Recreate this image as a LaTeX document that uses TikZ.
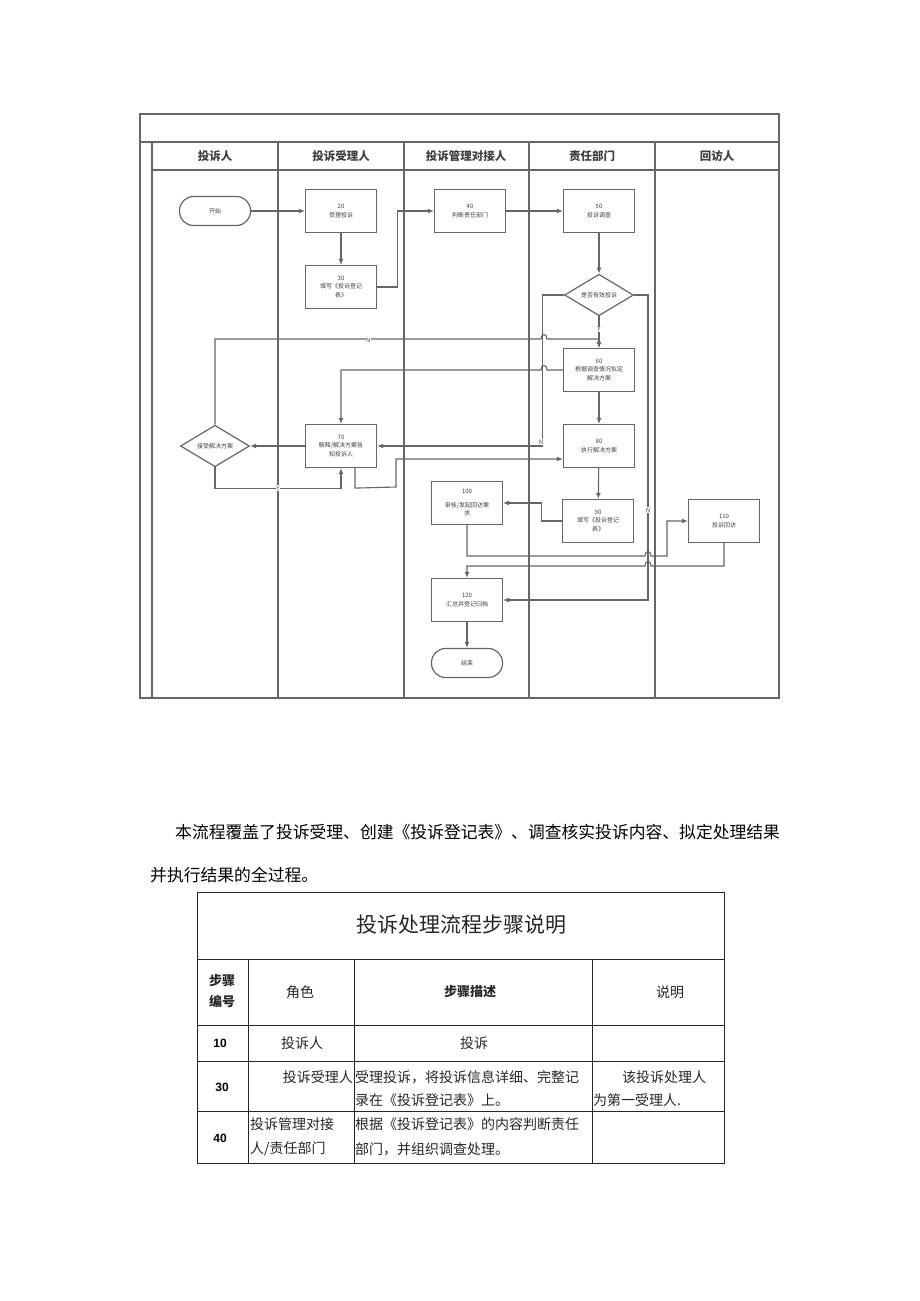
\documentclass[tikz,border=0pt]{standalone}
\usepackage{fontspec}
\setmainfont{Noto Sans CJK SC}
\newfontfamily\numfont{Liberation Sans}
\usetikzlibrary{shapes.geometric,arrows.meta,calc}
\begin{document}
\begin{tikzpicture}[x=1pt,y=-1pt,
  frame/.style={draw=black!60,line width=1.4pt},
  box/.style={draw=black!60,line width=1.2pt,minimum width=71pt,minimum height=43pt,align=center,
    font=\fontsize{6}{8.5}\selectfont,text=black!75,inner sep=1pt},
  term/.style={box,minimum height=29pt,rounded corners=14pt},
  dia/.style={draw=black!60,line width=1.2pt,shape=diamond,minimum width=69pt,minimum height=41pt,
    inner sep=0pt,font=\fontsize{6}{8}\selectfont,text=black!75},
  arr/.style={draw=black!60,line width=1.1pt,-{Latex[length=6pt,width=5pt]}},
  lbl/.style={font=\fontsize{6}{6}\selectfont,text=black!70,fill=white,inner sep=0.5pt},
  lane/.style={font=\fontsize{11.5}{12}\selectfont\bfseries,text=black!75},
  tline/.style={draw=black!85,line width=0.8pt},
  ttext/.style={font=\fontsize{14}{16}\selectfont,text=black!85,inner sep=0pt},
  tnum/.style={font=\numfont\bfseries\fontsize{12}{14}\selectfont,text=black,inner sep=0pt},
  ptext/.style={font=\fontsize{16.8}{18}\selectfont,text=black,inner sep=0pt}
]
\useasboundingbox (0,0) rectangle (920,1301);

% ---------- pool frame ----------
\draw[frame] (140,114) rectangle (779,698);
\draw[frame] (140,142) -- (779,142);
\draw[frame] (152,170) -- (779,170);
\foreach \x in {152,278,404,529,655} \draw[frame] (\x,142) -- (\x,698);

\node[lane] (h1) at (215,156) {投诉人};
\node[lane] (h2) at (341,156) {投诉受理人};
\node[lane] (h3) at (466,156) {投诉管理对接人};
\node[lane] (h4) at (592,156) {责任部门};
\node[lane] (h5) at (717,156) {回访人};

% ---------- nodes ----------
\node[term] (start) at (215,211) {开始};
\node[box] (n20) at (341,211) {20\\受理投诉};
\node[box] (n30) at (341,287) {30\\填写《投诉登记\\表》};
\node[box] (n40) at (470,211) {40\\判断责任部门};
\node[box] (n50) at (599,211) {50\\投诉调查};
\node[dia] (d1) at (599,295) {是否有效投诉};
\node[box] (n60) at (599,370) {60\\根据调查情况拟定\\解决方案};
\node[box] (n70) at (341,446) {70\\解释/解决方案告\\知投诉人};
\node[dia] (d2) at (215,446) {接受解决方案};
\node[box] (n80) at (599,446) {80\\执行解决方案};
\node[box] (n90) at (598,521) {90\\填写《投诉登记\\表》};
\node[box] (n100) at (467,503) {100\\[5pt]审核/发起回访需\\求};
\node[box] (n110) at (724,521) {110\\投诉回访};
\node[box] (n120) at (467,600) {120\\汇总并登记归档};
\node[term] (end) at (467,663) {结束};

% ---------- connectors ----------
\draw[arr] (start) -- (n20);
\draw[arr] (n20) -- (n30);
\draw[arr] (n30.east) -- ++(20,0) |- (n40.west);
\draw[arr] (n40) -- (n50);
\draw[arr] (n50) -- (d1);
\draw[arr] (d1) -- node[lbl,pos=0.42] {Y} (n60);
\draw[arr] (d1.west) -- ++(-21,0) |- (n70.east);
\node[lbl] (lN1) at (541,442) {N};
\draw[arr] (d2.north) -- (215,339) -- node[lbl,pos=0.47,yshift=-1pt] {N} (541,339)
  .. controls (541,333) and (547,333) .. (547,339) -- (599,339) -- (n60.north);
\draw[arr] (n60.west) -- (547,370) .. controls (547,364) and (541,364) .. (541,370) -| (n70.north);
\draw[arr] (n70.west) -- (d2.east);
\draw[arr] (d2.south) |- node[lbl,pos=0.75] {Y} ($(n70.south)+(0,20)$) -- (n70.south);
\draw[arr] ($(n70.south)+(14,0)$) -- ++(0,20) -- (396,487) -- (396,459) -- ($(n80.west)+(0,13)$);
\draw[arr] (n60) -- (n80);
\draw[arr] (n80) -- (n90);
\draw[arr] (n90.west) -- ++(-20,0) |- (n100.east);
\draw[arr] (n100.south) -- (467,556) -- (645,556) .. controls (645,550) and (651,550) .. (651,556)
  -- (667,556) -- (667,521) -- (n110.west);
\draw[arr] (n110.south) -- (724,566) -- (651,566) .. controls (651,560) and (645,560) .. (645,566)
  -- (467,566) -- (n120.north);
\draw[arr] (d1.east) -- (648,295) -- node[lbl,pos=0.705] {N} (648,600) -- (n120.east);
\draw[arr] (n120) -- (end);

% ---------- paragraph ----------
\node[ptext,anchor=west] (p1) at (175,832) {本流程覆盖了投诉受理、创建《投诉登记表》、调查核实投诉内容、拟定处理结果};
\node[ptext,anchor=west] (p2) at (150,875) {并执行结果的全过程。};

% ---------- table ----------
\draw[tline] (197,892) rectangle (724,1163);
\draw[tline] (197,959) -- (724,959);
\foreach \y in {1025,1061,1111} \draw[tline] (197,\y) -- (724,\y);
\foreach \x in {248,354,592} \draw[tline] (\x,959) -- (\x,1163);

\node[font=\fontsize{21}{24}\selectfont,text=black!85] (title) at (461,925) {投诉处理流程步骤说明};
\node[ttext,font=\fontsize{13}{16}\selectfont\bfseries,align=center] (c1) at (222,991) {步骤\\[5pt]编号};
\node[ttext] (c2) at (300,992) {角色};
\node[ttext,font=\fontsize{13}{16}\selectfont\bfseries] (c3) at (470,992) {步骤描述};
\node[ttext] (c4) at (670,992) {说明};

\node[tnum] (r10) at (220,1043) {10};
\node[ttext] (r10b) at (302,1043) {投诉人};
\node[ttext] (r10c) at (474,1043) {投诉};

\node[tnum] (r30) at (222,1087) {30};
\node[ttext,anchor=east] (r30b) at (353,1077) {投诉受理人};
\node[ttext,anchor=west] (r30c1) at (355,1077) {受理投诉，将投诉信息详细、完整记};
\node[ttext,anchor=west] (r30c2) at (355,1100) {录在《投诉登记表》上。};
\node[ttext,anchor=west] (r30d1) at (622,1077) {该投诉处理人};
\node[ttext,anchor=west] (r30d2) at (593,1100) {为第一受理人.};

\node[tnum] (r40) at (220,1138) {40};
\node[ttext,anchor=west] (r40b1) at (250,1124) {投诉管理对接};
\node[ttext,anchor=west] (r40b2) at (250,1149) {人/责任部门};
\node[ttext,anchor=west] (r40c1) at (355,1124) {根据《投诉登记表》的内容判断责任};
\node[ttext,anchor=west] (r40c2) at (355,1149) {部门，并组织调查处理。};
\end{tikzpicture}
\end{document}
